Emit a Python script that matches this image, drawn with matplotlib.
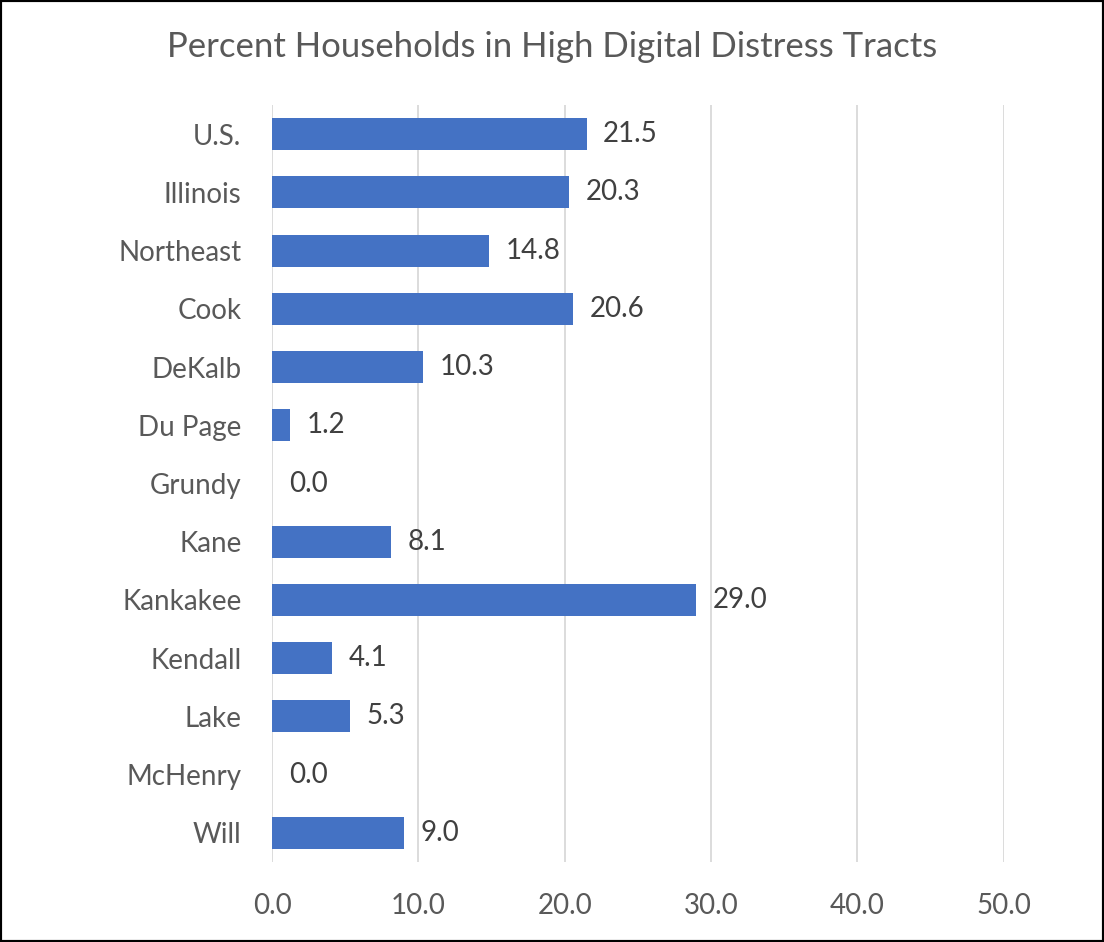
import matplotlib
matplotlib.use("Agg")
import matplotlib.pyplot as plt
from matplotlib.patches import Rectangle

categories = ["U.S.", "Illinois", "Northeast", "Cook", "DeKalb", "Du Page", "Grundy",
              "Kane", "Kankakee", "Kendall", "Lake", "McHenry", "Will"]
values = [21.5, 20.3, 14.8, 20.6, 10.3, 1.2, 0.0, 8.1, 29.0, 4.1, 5.3, 0.0, 9.0]
xticks = [0, 10, 20, 30, 40, 50]

plt.rcParams['font.family'] = ['Lato', 'DejaVu Sans']

fig = plt.figure(figsize=(11.04, 9.42), dpi=100)
ax = fig.add_axes([0.2464, 0.0849, 0.6626, 0.8036])

y = list(range(len(categories)))
ax.barh(y, values, height=0.55, color="#4472C4", zorder=3)
for yi, v in zip(y, values):
    ax.annotate(f"{v:.1f}", (v, yi), xytext=(12, 0), textcoords="offset points",
                va="center", ha="left", fontsize=20, color="#404040")

ax.set_ylim(len(categories) - 0.5, -0.5)
ax.set_xlim(0, 50)
ax.set_yticks(y)
ax.set_yticklabels(categories)
ax.set_xticks(xticks)
ax.set_xticklabels([f"{t:.1f}" for t in xticks])
ax.tick_params(axis="both", length=0, labelsize=20, labelcolor="#595959")
ax.tick_params(axis="x", pad=22)
ax.tick_params(axis="y", pad=22)
ax.grid(axis="x", color="#D9D9D9", linewidth=1.3, zorder=0)
for s in ax.spines.values():
    s.set_visible(False)

fig.text(0.5, 1 - 47 / 942, "Percent Households in High Digital Distress Tracts",
         ha="center", va="center", fontsize=25, color="#595959")

fig.patches.append(Rectangle((0, 0), 1, 1, transform=fig.transFigure, fill=False,
                             edgecolor="black", linewidth=3))

fig.savefig("out.png", dpi=100)
